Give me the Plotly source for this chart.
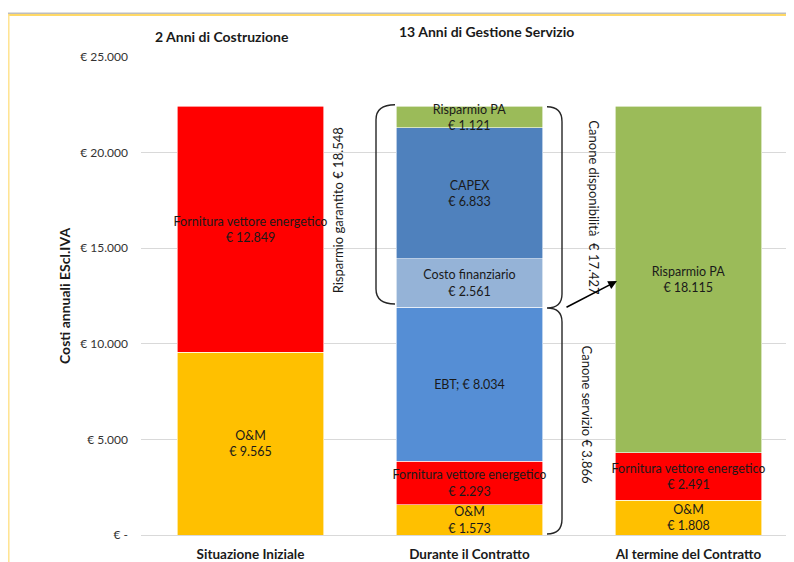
import plotly.graph_objects as go

# ---- data ----
categories = ["Situazione Iniziale", "Durante il Contratto", "Al termine del Contratto"]
om = [9565, 1573, 1808]
fornitura = [12849, 2293, 2491]
ebt = [None, 8034, None]
costo_fin = [None, 2561, None]
capex = [None, 6833, None]
risparmio = [None, 1121, 18115]

y_tickvals = [0, 5000, 10000, 15000, 20000, 25000]
y_ticktext = ["€ -", "€ 5.000", "€ 10.000", "€ 15.000", "€ 20.000", "€ 25.000"]


def eur(v):
    return "€ " + f"{v:,}".replace(",", ".")


def labels(name, vals, sep="<br>"):
    return [None if v is None else f"{name}{sep}{eur(v)}" for v in vals]


series = [
    ("O&M", om, "#FFC000", labels("O&M", om)),
    ("Fornitura vettore energetico", fornitura, "#FF0000", labels("Fornitura vettore energetico", fornitura)),
    ("EBT", ebt, "#558ED5", labels("EBT", ebt, sep="; ")),
    ("Costo finanziario", costo_fin, "#95B3D7", labels("Costo finanziario", costo_fin)),
    ("CAPEX", capex, "#4F81BD", labels("CAPEX", capex)),
    ("Risparmio PA", risparmio, "#9BBB59", labels("Risparmio PA", risparmio)),
]

FONT = "Lato, 'Open Sans', sans-serif"
OFF = 8  # page body margin
W, H = 794 - OFF, 562 - OFF
L, R, T, B = 141 - OFF, 0, 57 - OFF, 562 - 537
PW, PH = W - L - R, H - T - B


def fx(sx):
    return (sx - OFF - L) / PW


def fy(sy):
    return (H - B - (sy - OFF)) / PH


fig = go.Figure()
for name, vals, color, txt in series:
    fig.add_trace(go.Bar(
        x=categories, y=vals, name=name,
        marker=dict(color=color, line=dict(color="white", width=0.6)),
        text=txt, textposition="inside", textangle=0, constraintext="none",
        insidetextanchor="middle",
        textfont=dict(family=FONT, size=12.5, color="#1a1a1a"),
        cliponaxis=False, hoverinfo="skip",
    ))

xmax = -0.5 + PW / 219.0

fig.update_layout(
    width=W, height=H,
    barmode="stack", bargap=0.333,
    showlegend=False,
    plot_bgcolor="white", paper_bgcolor="white",
    margin=dict(l=L, r=R, t=T, b=B),
    font=dict(family=FONT, size=12, color="#404040"),
    xaxis=dict(range=[-0.5, xmax], showgrid=False, showline=False, ticks="",
               ticklabelstandoff=9,
               tickfont=dict(family=FONT, size=13.5, color="#1a1a1a", weight="bold"),
               fixedrange=True),
    yaxis=dict(range=[0, 25000], tickvals=y_tickvals, ticktext=y_ticktext,
               showgrid=True, gridcolor="#D9D9D9", gridwidth=1.2,
               zeroline=True, zerolinecolor="#D9D9D9", zerolinewidth=1.2,
               showline=False, ticks="", ticklabelstandoff=12,
               tickfont=dict(family=FONT, size=12, color="#333333")),
)


def note(x, y, text, size=13, angle=0):
    return dict(x=fx(x), y=fy(y), xref="paper", yref="paper", text=text,
                xanchor="center", yanchor="middle", textangle=angle,
                showarrow=False, font=dict(family=FONT, size=size, color="#1a1a1a"))


ann = [
    note(222, 36, "<b>2 Anni di Costruzione</b>", 14),
    note(486, 31, "<b>13 Anni di Gestione Servizio</b>", 14),
    note(64, 297, "<b>Costi annuali EScl.IVA</b>", 14, -90),
    note(338, 211, "Risparmio garantito € 18.548", 13, -90),
    note(594, 208, "Canone disponibilità  € 17.427", 13, 90),
    note(587, 416, "Canone servizio € 3.866", 13, 90),
]
# arrow
ann.append(dict(x=fx(617), y=fy(282), xref="paper", yref="paper", ax=565 - 617, ay=309 - 282,
                axref="pixel", ayref="pixel", text="", showarrow=True, arrowhead=2, arrowsize=1.1,
                arrowwidth=1.6, arrowcolor="black"))
fig.update_layout(annotations=ann)


def P(sx, sy):
    return f"{fx(sx):.5f},{fy(sy):.5f}"


shapes = []
# left bracket "("
path_left = (f"M {P(395,105)} Q {P(376,105)} {P(376,120)} L {P(376,290)} "
             f"Q {P(376,305)} {P(395,305)}")
shapes.append(dict(type="path", path=path_left, xref="paper", yref="paper",
                   line=dict(color="#262626", width=1.4)))
# right braces
path_right = (f"M {P(547,107)} Q {P(562,107)} {P(562,122)} L {P(562,295)} "
              f"Q {P(562,309)} {P(547,309)} Q {P(562,309)} {P(562,323)} "
              f"L {P(562,521)} Q {P(562,536)} {P(547,536)}")
shapes.append(dict(type="path", path=path_right, xref="paper", yref="paper",
                   line=dict(color="#262626", width=1.4)))
# chart frame
shapes.append(dict(type="line", xref="paper", yref="paper", x0=fx(8), x1=fx(800), y0=fy(13), y1=fy(13),
                   line=dict(color="#9E9E9E", width=1)))
shapes.append(dict(type="line", xref="paper", yref="paper", x0=fx(8), x1=fx(800), y0=fy(14.8), y1=fy(14.8),
                   line=dict(color="#FFD966", width=1.8)))
shapes.append(dict(type="line", xref="paper", yref="paper", x0=fx(8.8), x1=fx(8.8), y0=fy(14), y1=fy(570),
                   line=dict(color="#FFE38F", width=1.5)))
fig.update_layout(shapes=shapes)

fig.write_html("out.html")
